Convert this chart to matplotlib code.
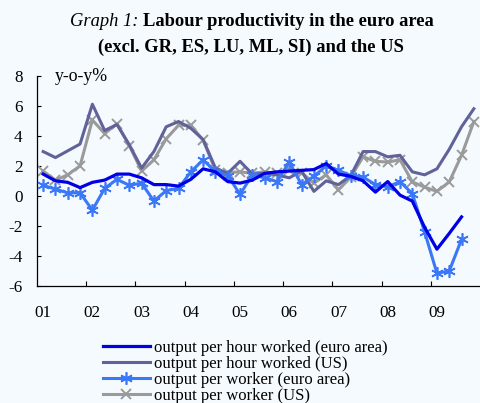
import matplotlib
matplotlib.use("Agg")
import matplotlib.pyplot as plt
import numpy as np

plt.rcParams['font.family'] = ['Liberation Serif', 'DejaVu Serif']

year_labels = ["01", "02", "03", "04", "05", "06", "07", "08", "09"]
quarters = [f"{y}Q{q}" for y in year_labels for q in range(1, 5)]

euro_hour = [1.45, 1.0, 0.9, 0.55, 0.9, 1.05, 1.45, 1.45, 1.2, 0.75, 0.75, 0.65,
             1.1, 1.8, 1.6, 0.95, 0.85, 1.05, 1.5, 1.6, 1.65, 1.7, 1.75, 2.15,
             1.45, 1.3, 1.0, 0.25, 0.95, 0.05, -0.35, -2.1, -3.55, -2.5, -1.4]
us_hour = [2.95, 2.55, 3.0, 3.45, 6.1, 4.35, 4.75, 3.4, 1.85, 2.95, 4.6, 4.95,
           4.5, 3.75, 1.85, 1.5, 2.3, 1.45, 1.5, 1.4, 1.2, 1.65, 0.3, 1.0,
           0.75, 1.35, 2.95, 2.95, 2.6, 2.7, 1.6, 1.4, 1.8, 3.1, 4.6, 5.8]
euro_worker = [0.7, 0.45, 0.2, 0.2, -0.95, 0.5, 1.1, 0.7, 0.85, -0.35, 0.35, 0.5,
               1.6, 2.4, 1.6, 1.35, 0.1, 1.4, 1.2, 0.95, 2.25, 0.75, 1.3, 2.0,
               1.7, 1.35, 1.25, 0.75, 0.6, 0.95, 0.15, -2.4, -5.15, -5.0, -2.9]
us_worker = [1.65, 1.05, 1.4, 2.0, 5.05, 4.15, 4.8, 3.35, 1.65, 2.4, 3.8, 4.7,
             4.7, 3.7, 1.7, 1.55, 1.6, 1.5, 1.6, 1.5, 1.7, 1.55, 0.85, 1.4,
             0.4, 1.25, 2.6, 2.3, 2.25, 2.4, 0.93, 0.58, 0.3, 0.93, 2.7, 4.95]

labels = ["output per hour worked (euro area)", "output per hour worked (US)",
          "output per worker (euro area)", "output per worker (US)"]
yticks = [-6, -4, -2, 0, 2, 4, 6, 8]

bg = '#F5FAFE'
c_eh = '#0000E6'
c_uh = '#62629A'
c_ew = '#3A78F8'
c_uw = '#9A9A9A'

fig = plt.figure(figsize=(4.8, 4.03), dpi=100, facecolor=bg)
ax = fig.add_axes([37/480, 117/403, 443/480, 210.3/403], facecolor=bg)

x_all = np.arange(len(quarters))
ax.plot(x_all[:len(euro_hour)], euro_hour, color=c_eh, lw=2.3, label=labels[0], zorder=5)
ax.plot(x_all[:len(us_hour)], us_hour, color=c_uh, lw=2.2, label=labels[1], zorder=3)
ax.plot(x_all[:len(euro_worker)], euro_worker, color=c_ew, lw=2.2, marker=(6, 2, 0),
        ms=9, mew=1.2, label=labels[2], zorder=4)
ax.plot(x_all[:len(us_worker)], us_worker, color=c_uw, lw=2.2, marker='x',
        ms=7.5, mew=1.4, label=labels[3], zorder=2)

ax.set_xlim(-0.5, len(quarters) - 0.5)
ax.set_ylim(-6, 8)
ax.set_yticks(yticks)
ax.set_yticklabels([str(v) for v in yticks])
ax.tick_params(axis='y', direction='in', length=3, pad=10.5, labelsize=12.3, width=0.8)

ax.set_xticks(np.arange(0, len(quarters), 4))
ax.set_xticklabels(year_labels)
ax.set_xticks(np.arange(3.5, len(quarters) - 4, 4), minor=True)
ax.tick_params(axis='x', which='major', length=0, pad=14, labelsize=12.3)
ax.tick_params(axis='x', which='minor', direction='in', length=3.5, width=0.8)

for s in ['top', 'right']:
    ax.spines[s].set_visible(False)
for s in ['left', 'bottom']:
    ax.spines[s].set_linewidth(0.9)

ax.text(18/443, 0.994, "y-o-y%", transform=ax.transAxes, ha='left', va='center',
        fontsize=12.8)

# Title
t1a = fig.text(0, 1 - 26.5/403, "Graph 1: ", fontsize=13.3, style='italic', ha='left', va='baseline')
t1b = fig.text(0, 1 - 26.5/403, "Labour productivity in the euro area", fontsize=13.3,
               weight='bold', ha='left', va='baseline')
t2 = fig.text(251/480, 1 - 52/403, "(excl. GR, ES, LU, ML, SI) and the US", fontsize=13.3,
              weight='bold', ha='center', va='baseline')
fig.canvas.draw()
r = fig.canvas.get_renderer()
wa = t1a.get_window_extent(r).width
wb = t1b.get_window_extent(r).width
start = 251.5 - (wa + wb) / 2
t1a.set_x(start / 480)
t1b.set_x((start + wa) / 480)

fig.legend(loc='upper left', bbox_to_anchor=(103/480, 1 - 340/403), frameon=False,
           fontsize=12, handlelength=2.8, handletextpad=0.25, labelspacing=0.0,
           borderpad=0, borderaxespad=0)

fig.savefig("out.png", dpi=100, facecolor=bg)
